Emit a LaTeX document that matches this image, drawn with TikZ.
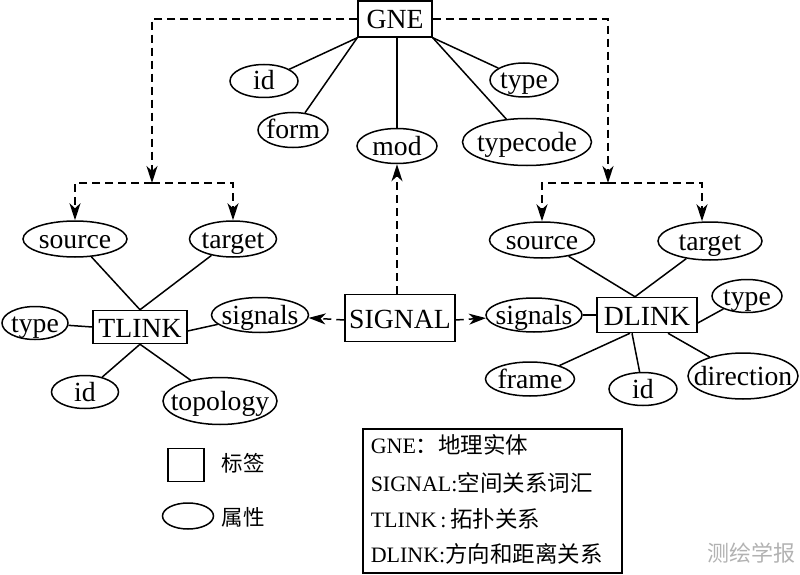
\documentclass[tikz,border=0pt]{standalone}
\usepackage{fontspec}
\setmainfont{Liberation Serif}
\newfontfamily\cjkfont{Noto Sans CJK SC}
\usetikzlibrary{shapes.geometric,arrows.meta}
\newcommand\zhtxt[1]{{\cjkfont\fontsize{22.5}{24}\selectfont #1}}
\newcommand\ctrtxt[1]{\makebox[0pt]{#1}}
\begin{document}
\begin{tikzpicture}[x=1pt,y=-1pt,line width=1.5pt,
  box/.style={draw, rectangle, inner sep=0pt, text height=20pt, text depth=0pt,
    font=\fontsize{27.7}{30}\selectfont},
  attr/.style={draw, ellipse, inner sep=0pt, text height=18pt, text depth=0pt,
    font=\fontsize{27.7}{30}\selectfont},
  dashconn/.style={dash pattern=on 8pt off 5pt, -{Stealth[length=17pt,width=11pt,inset=5pt]}},
  legtext/.style={anchor=base west, inner sep=0pt, font=\fontsize{22}{24}\selectfont},
  zhlabel/.style={inner sep=0pt, font=\cjkfont\fontsize{21.5}{24}\selectfont}
]
\useasboundingbox (0,0) rectangle (800,575);

% main boxes
\node[box, minimum width=74, minimum height=36] (gne) at (395,19) {GNE};
\node[box, minimum width=94, minimum height=33] (tlink) at (140,327) {TLINK};
\node[box, minimum width=110, minimum height=47] (signal) at (400,318) {SIGNAL};
\node[box, minimum width=100, minimum height=35] (dlink) at (647,315) {DLINK};

% GNE attributes
\node[attr, minimum width=68, minimum height=33] (id1) at (264,81) {\ctrtxt{id}};
\node[attr, minimum width=70, minimum height=35] (form) at (293,130) {\ctrtxt{form}};
\node[attr, minimum width=80, minimum height=35] (mod) at (397,146) {\ctrtxt{mod}};
\node[attr, minimum width=68, minimum height=34] (type1) at (524,80) {\ctrtxt{type}};
\node[attr, minimum width=129, minimum height=47] (typecode) at (527,142) {\ctrtxt{typecode}};

% TLINK attributes
\node[attr, minimum width=104, minimum height=36] (srcL) at (75,239) {\ctrtxt{source}};
\node[attr, minimum width=87, minimum height=36] (tgtL) at (233,239) {\ctrtxt{target}};
\node[attr, minimum width=66, minimum height=33] (typeL) at (35,323) {\ctrtxt{type}};
\node[attr, minimum width=97, minimum height=35] (sigL) at (260,315) {\ctrtxt{signals}};
\node[attr, minimum width=67, minimum height=33] (idL) at (85,392) {\ctrtxt{id}};
\node[attr, minimum width=114, minimum height=47] (topology) at (220,401) {\ctrtxt{topology}};

% DLINK attributes
\node[attr, minimum width=105, minimum height=36] (srcR) at (542,240) {\ctrtxt{source}};
\node[attr, minimum width=104, minimum height=38] (tgtR) at (710,241) {\ctrtxt{target}};
\node[attr, minimum width=96, minimum height=34] (sigR) at (534,315) {\ctrtxt{signals}};
\node[attr, minimum width=70, minimum height=33] (typeR) at (747,296) {\ctrtxt{type}};
\node[attr, minimum width=89, minimum height=34] (frame) at (530,379) {\ctrtxt{frame}};
\node[attr, minimum width=68, minimum height=33] (idR) at (643,389) {\ctrtxt{id}};
\node[attr, minimum width=110, minimum height=46] (direction) at (743,376) {\ctrtxt{direction}};

% solid connectors
\draw (gne.south west) -- (id1);
\draw (gne.south west) -- (form);
\draw (mod |- gne.south) -- (mod);
\draw (gne.south east) -- (type1);
\draw (gne.south east) -- (typecode);

\draw (tlink.north) -- (srcL);
\draw (tlink.north) -- (tgtL);
\draw (tlink.south) -- (idL);
\draw (tlink.south) -- (topology);
\draw (typeL) -- (tlink.west);
\draw ([yshift=-4pt]tlink.east) -- (sigL);

\draw ([xshift=-12pt]dlink.north) -- (srcR);
\draw ([xshift=-12pt]dlink.north) -- (tgtR);
\draw ([xshift=-17pt]dlink.south) -- (frame);
\draw ([xshift=-15pt]dlink.south) -- (idR);
\draw ([xshift=21pt]dlink.south) -- (direction);
\draw (sigR) -- (dlink.west);
\draw ([yshift=-8pt]dlink.east) -- (typeR);

% dashed connectors
\coordinate (forkL) at (152,183);
\coordinate (forkR) at (608,183);
\draw[dashconn] (gne.west) -| (forkL);
\draw[dashconn] (gne.east) -| (forkR);
\draw[dashconn] (forkL) -| (srcL);
\draw[dashconn] (forkL) -| (tgtL);
\draw[dashconn] (forkR) -| (srcR);
\draw[dashconn] (forkR) -| ([xshift=-8pt]tgtR.north);
\draw[dashconn] (mod |- signal.north) -- (mod);
\draw[dashconn] ([yshift=-2pt]signal.west) -- (sigL);
\draw[dashconn] ([yshift=-2pt]signal.east) -- (sigR);

% legend symbols
\node[draw, rectangle, minimum width=36, minimum height=33, inner sep=0pt] (legbox) at (186,465) {};
\node[zhlabel] (legboxtxt) at (243,463) {标签};
\node[draw, ellipse, minimum width=51, minimum height=26, inner sep=0pt] (legell) at (188,516) {};
\node[zhlabel] (legelltxt) at (243,517) {属性};

% legend box
\node[draw, rectangle, minimum width=259, minimum height=144, inner sep=0pt] (legend) at (492.5,501) {};
\node[legtext] (l1) at (370,453) {GNE\zhtxt{：}\zhtxt{地理实体}};
\node[legtext] (l2) at (370,491) {SIGNAL:\zhtxt{空间关系词汇}};
\node[legtext] (l3) at (370,527) {TLINK\,:\,\zhtxt{拓扑关系}};
\node[legtext] (l4) at (370,562) {DLINK:\zhtxt{方向和距离关系}};

% watermark
\node[text=black!30, font=\cjkfont\fontsize{22}{24}\selectfont, inner sep=0pt] (wm) at (751,553) {测绘学报};
\end{tikzpicture}
\end{document}
